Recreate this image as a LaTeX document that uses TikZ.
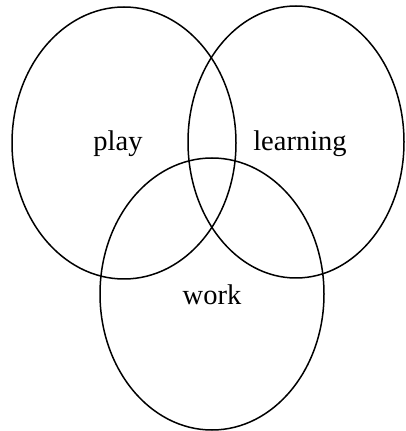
\documentclass[tikz,border=0pt]{standalone}
\usepackage{fontspec}
\setmainfont{Liberation Serif}
\usetikzlibrary{shapes.geometric}
\begin{document}
\begin{tikzpicture}[x=1pt,y=1pt,
  venn/.style={draw=black, line width=1.5pt, ellipse, inner sep=0pt,
    minimum width=224pt, minimum height=272pt},
  lbl/.style={font=\fontsize{28.5}{32}\selectfont, inner sep=0pt}]
\useasboundingbox (0,0) rectangle (405,431);
\node[venn] (play) at (124,288) {};
\node[venn, minimum width=216pt] (learning) at (296,289) {};
\node[venn] (work) at (212,137) {};
\node[lbl] (playlbl) at (118,287) {play};
\node[lbl] (learnlbl) at (300,287) {learning};
\node[lbl] (worklbl) at (212,136) {work};
\end{tikzpicture}
\end{document}
